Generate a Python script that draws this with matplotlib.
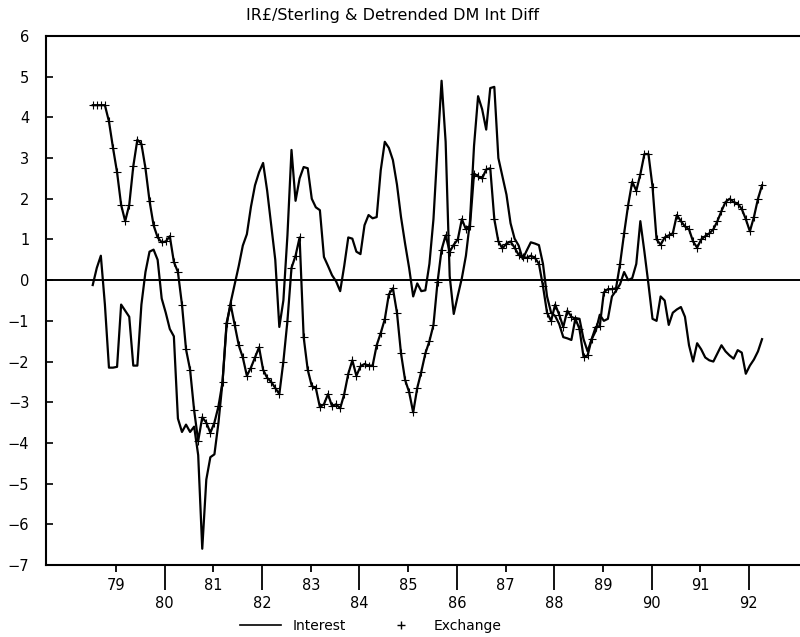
import numpy as np
import matplotlib
matplotlib.use("Agg")
import matplotlib.pyplot as plt
from matplotlib.lines import Line2D

# Monthly series, starting mid-1978
start_year = 78.52

interest = [
    -0.12, 0.3, 0.6, -0.6, -2.15, -2.15, -2.13, -0.6, -0.75, -0.9,
    -2.1, -2.1, -0.6, 0.2, 0.7, 0.75, 0.5, -0.45, -0.8, -1.2,
    -1.38, -3.4, -3.73, -3.55, -3.73, -3.6, -4.3, -6.6, -4.9, -4.35,
    -4.28, -3.5, -2.5, -1.1, -0.55, -0.1, 0.35, 0.85, 1.13, 1.8,
    2.33, 2.65, 2.88, 2.2, 1.35, 0.5, -1.15, -0.5, 1.1, 3.2,
    1.95, 2.5, 2.78, 2.75, 2.0, 1.79, 1.72, 0.57, 0.35, 0.12,
    -0.03, -0.27, 0.35, 1.05, 1.02, 0.7, 0.64, 1.35, 1.6, 1.52,
    1.55, 2.7, 3.4, 3.25, 2.95, 2.35, 1.55, 0.9, 0.3, -0.4,
    -0.08, -0.27, -0.25, 0.4, 1.5, 3.25, 4.9, 3.4, 0.1, -0.83,
    -0.38, 0.05, 0.6, 1.45, 3.3, 4.52, 4.2, 3.7, 4.72, 4.75,
    3.0, 2.55, 2.1, 1.4, 1.02, 0.85, 0.52, 0.73, 0.93, 0.9,
    0.86, 0.4, -0.4, -0.8, -0.88, -1.08, -1.4, -1.43, -1.47, -0.93,
    -0.95, -1.45, -1.75, -1.45, -1.25, -0.85, -1.0, -0.95, -0.4, -0.26,
    -0.1, 0.2, 0.0, 0.05, 0.4, 1.45, 0.7, -0.1, -0.95, -1.0,
    -0.4, -0.5, -1.1, -0.8, -0.72, -0.66, -0.9, -1.6, -2.0, -1.55,
    -1.7, -1.9, -1.97, -2.0, -1.8, -1.6, -1.75, -1.85, -1.93, -1.72,
    -1.78, -2.3, -2.1, -1.95, -1.75, -1.45,
]

exchange = [
    4.3, 4.3, 4.3, 4.3, 3.9, 3.25, 2.65, 1.85, 1.45, 1.85,
    2.8, 3.45, 3.35, 2.75, 1.95, 1.35, 1.05, 0.93, 0.95, 1.08,
    0.45, 0.2, -0.6, -1.7, -2.2, -3.2, -3.95, -3.37, -3.5, -3.75,
    -3.5, -3.1, -2.5, -1.05, -0.6, -1.1, -1.6, -1.9, -2.35, -2.15,
    -1.9, -1.65, -2.2, -2.4, -2.5, -2.65, -2.8, -2.0, -1.0, 0.3,
    0.6, 1.05, -1.4, -2.2, -2.6, -2.65, -3.12, -3.05, -2.8, -3.1,
    -3.05, -3.15, -2.8, -2.3, -1.97, -2.35, -2.12, -2.06, -2.1, -2.1,
    -1.6, -1.3, -0.96, -0.35, -0.2, -0.8, -1.8, -2.45, -2.75, -3.25,
    -2.65, -2.25, -1.8, -1.5, -1.1, -0.05, 0.75, 1.1, 0.7, 0.87,
    1.0, 1.5, 1.25, 1.33, 2.62, 2.55, 2.5, 2.72, 2.75, 1.5,
    0.95, 0.78, 0.9, 0.95, 0.8, 0.62, 0.57, 0.55, 0.6, 0.55,
    0.4, -0.15, -0.8, -1.0, -0.6, -0.85, -1.15, -0.75, -0.9, -0.95,
    -1.2, -1.89, -1.85, -1.45, -1.15, -1.13, -0.3, -0.22, -0.22, -0.2,
    0.4, 1.15, 1.85, 2.42, 2.2, 2.6, 3.1, 3.1, 2.3, 1.0,
    0.87, 1.05, 1.1, 1.15, 1.6, 1.45, 1.32, 1.25, 0.95, 0.8,
    1.0, 1.08, 1.15, 1.25, 1.45, 1.7, 1.92, 2.0, 1.92, 1.88,
    1.75, 1.5, 1.2, 1.55, 2.0, 2.33,
]

even_years = [80, 82, 84, 86, 88, 90, 92]
odd_years = [79, 81, 83, 85, 87, 89, 91]
y_ticks = list(range(-7, 7))

t_int = start_year + np.arange(len(interest)) / 12
t_exc = start_year + np.arange(len(exchange)) / 12

plt.rcParams["font.family"] = ["DejaVu Sans"]

fig = plt.figure(figsize=(8, 6.37), dpi=100)
ax = fig.add_axes([0.0575, 0.113, 0.9425, 0.8305])

ax.plot(t_int, interest, color="black", lw=1.6)
ax.plot(t_exc, exchange, color="black", lw=1.6, marker="+", ms=6, mew=0.8)
ax.axhline(0, color="black", lw=1.4)

ax.set_xlim(77.56, 93.05)
ax.set_ylim(-7, 6)
ax.set_yticks(y_ticks)
ax.set_yticklabels([str(v).replace("-", "\u2212") for v in y_ticks], fontsize=10.5)
ax.tick_params(axis="y", direction="in", length=5, width=1.2, pad=12)

ax.set_xticks(even_years)
ax.set_xticklabels([str(y) for y in even_years], fontsize=10.5)
ax.set_xticks(odd_years, minor=True)
ax.set_xticklabels([str(y) for y in odd_years], minor=True, fontsize=10.5)
ax.tick_params(axis="x", which="major", direction="out", length=18, width=1.3, pad=4)
ax.tick_params(axis="x", which="minor", direction="out", length=5, width=1.3, pad=4)

for side in ["left", "top", "bottom"]:
    ax.spines[side].set_linewidth(1.5)
ax.spines["right"].set_visible(False)

fig.text(0.491, 0.975, "IR£/Sterling & Detrended DM Int Diff",
         ha="center", va="center", fontsize=11.5)

handles = [
    Line2D([], [], color="black", lw=1.2),
    Line2D([], [], color="black", marker="+", ls="none", ms=6),
]
fig.legend(handles, ["Interest", "Exchange"], loc="center", ncol=2,
           bbox_to_anchor=(0.463, 0.017), frameon=False, fontsize=10,
           handlelength=3.0, columnspacing=2.5, borderpad=0.1)

fig.savefig("out.png", dpi=100)
